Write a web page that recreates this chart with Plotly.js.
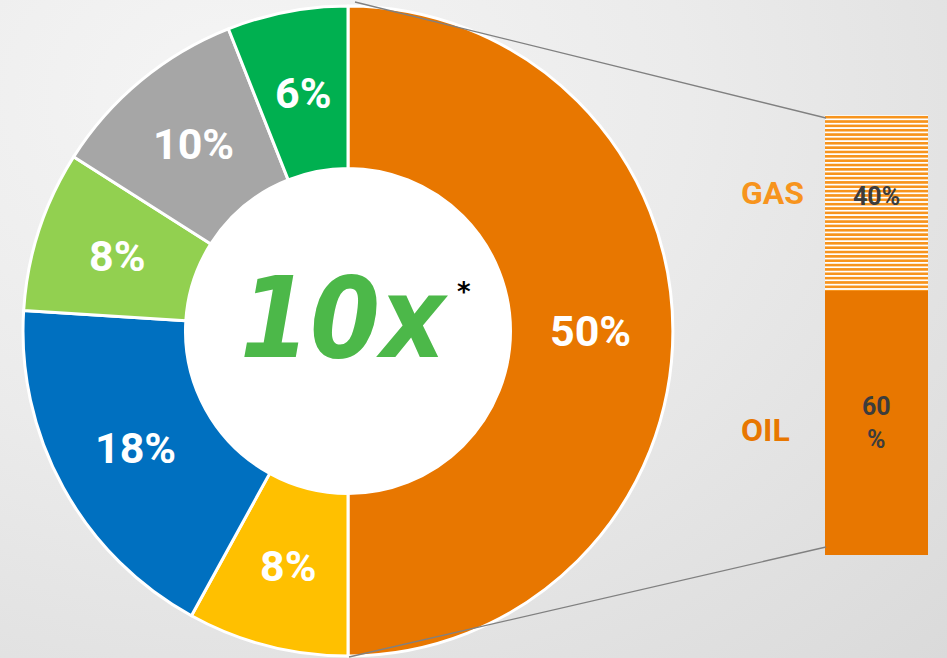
<!DOCTYPE html>
<html>
<head>
<meta charset="utf-8">
<script src="https://cdn.plot.ly/plotly-3.0.1.min.js"></script>
<style>
  html, body { margin:0; padding:0; }
  body { width:947px; height:658px; overflow:hidden;
    background: radial-gradient(ellipse at 25% 15%, #f5f5f5 0%, #ebebeb 45%, #dadada 100%); }
  #chart { width:947px; height:658px; }
</style>
</head>
<body>
<div id="chart"></div>
<script>
// Donut data (clockwise from top)
const sliceValues = [50, 8, 18, 8, 10, 6];
const sliceColors = ['#E87700', '#FFC000', '#0070C0', '#92D050', '#A6A6A6', '#00B050'];

// Breakdown bar of the 50% slice
const fuelNames = ['OIL', 'GAS'];
const fuelValues = [60, 40];
const fuelTexts = ['60<br>%', '40%'];
const fuelLabelColors = ['#E87700', '#F7941D'];

const centerText = '10x';

const W = 947, H = 658;
const px = x => x / W;
const py = y => 1 - y / H;

// donut geometry (pixels)
const CX = 348, CY = 331, R = 325, HOLE = 0.5;

const pie = {
  type: 'pie',
  values: sliceValues,
  marker: { colors: sliceColors, line: { color: '#ffffff', width: 3 } },
  hole: HOLE,
  sort: false,
  direction: 'clockwise',
  rotation: 0,
  textinfo: 'none',
  domain: { x: [px(CX - R), px(CX + R)], y: [py(CY + R), py(CY - R)] },
  showlegend: false,
  hoverinfo: 'none'
};

const oilBar = {
  type: 'bar', x: ['mix'], y: [fuelValues[0]], xaxis: 'x', yaxis: 'y',
  marker: { color: '#E87700', line: { width: 0 } },
  showlegend: false, hoverinfo: 'none'
};
const gasBar = {
  type: 'bar', x: ['mix'], y: [fuelValues[1]], xaxis: 'x', yaxis: 'y',
  marker: { color: '#ffffff', line: { width: 0 },
    pattern: { shape: '-', fgcolor: '#F7941D', fgopacity: 1, bgcolor: '#ffffff',
               size: 4.35, solidity: 0.6, fillmode: 'overlay' } },
  showlegend: false, hoverinfo: 'none'
};

const annotations = [];

// slice labels at ring middle, from cumulative data
const total = sliceValues.reduce((a, b) => a + b, 0);
const rMid = R * (1 + HOLE) / 2 - 1;
let cum = 0;
sliceValues.forEach((v) => {
  const ang = (cum + v / 2) / total * 2 * Math.PI;
  cum += v;
  annotations.push({
    xref: 'paper', yref: 'paper',
    x: px(CX + rMid * Math.sin(ang)), y: py(CY - rMid * Math.cos(ang)),
    xanchor: 'center', yanchor: 'middle', showarrow: false,
    text: '<b>' + v + '%</b>',
    font: { color: '#ffffff', size: 43, family: 'Roboto, DejaVu Sans, sans-serif' }
  });
});

// bar labels
const mids = [];
let acc = 0;
fuelValues.forEach(v => { mids.push(acc + v / 2); acc += v; });
const labelShift = [-7, 10];
fuelNames.forEach((n, i) => {
  annotations.push({
    xref: 'paper', yref: 'y', x: px(739), y: mids[i], yshift: labelShift[i],
    xanchor: 'left', yanchor: 'middle', showarrow: false,
    text: '<b>' + n + '</b>',
    font: { color: fuelLabelColors[i], size: 32, family: 'Roboto, DejaVu Sans, sans-serif' }
  });
  annotations.push({
    xref: 'x', yref: 'y', x: 'mix', y: mids[i], yshift: i === 1 ? 7 : 0,
    xanchor: 'center', yanchor: 'middle', showarrow: false,
    text: '<b>' + fuelTexts[i] + '</b>',
    font: { color: '#3c3c3c', size: 25, family: 'Roboto, DejaVu Sans, sans-serif' }
  });
});

annotations.push({
  xref: 'paper', yref: 'paper', x: px(344), y: py(318), xanchor: 'center', yanchor: 'middle',
  text: '<b><i>' + centerText + '</i></b>', showarrow: false,
  font: { color: '#4CB849', size: 112, family: 'DejaVu Sans Condensed, DejaVu Sans, sans-serif' }
});
annotations.push({
  xref: 'paper', yref: 'paper', x: px(464), y: py(292), xanchor: 'center', yanchor: 'middle',
  text: '<b>*</b>', showarrow: false,
  font: { color: '#000000', size: 26, family: 'DejaVu Sans, sans-serif' }
});

const layout = {
  width: W, height: H,
  margin: { l: 0, r: 0, t: 0, b: 0, pad: 0 },
  paper_bgcolor: 'rgba(0,0,0,0)',
  plot_bgcolor: 'rgba(0,0,0,0)',
  barmode: 'stack', bargap: 0,
  xaxis: { domain: [px(825), px(928)], visible: false, fixedrange: true },
  yaxis: { domain: [py(555), py(115)], range: [0, 100], visible: false, fixedrange: true },
  annotations: annotations,
  shapes: [
    { type: 'circle', xref: 'paper', yref: 'paper', layer: 'below',
      x0: px(CX - R * HOLE), x1: px(CX + R * HOLE), y0: py(CY + R * HOLE), y1: py(CY - R * HOLE),
      fillcolor: '#ffffff', line: { width: 0 } },
    { type: 'line', xref: 'paper', yref: 'paper', x0: px(355), y0: py(2), x1: px(826), y1: py(118),
      line: { color: '#808080', width: 1.3 } },
    { type: 'line', xref: 'paper', yref: 'paper', x0: px(349), y0: py(657), x1: px(826), y1: py(547),
      line: { color: '#808080', width: 1.3 } }
  ]
};

Plotly.newPlot('chart', [pie, oilBar, gasBar], layout, { displayModeBar: false, staticPlot: true });
</script>
</body>
</html>
